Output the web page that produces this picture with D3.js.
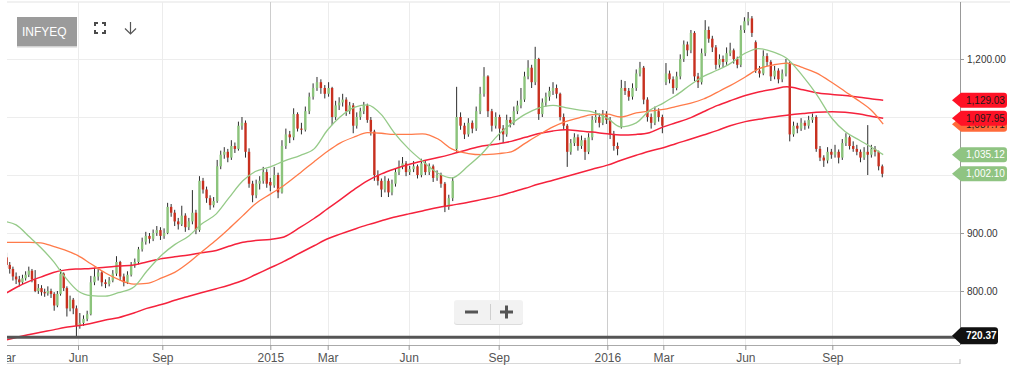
<html>
<head>
<meta charset="utf-8">
<script src="https://cdn.jsdelivr.net/npm/d3@7/dist/d3.min.js"></script>
</head>
<body style="margin:0;background:#fff">
<style>
  svg { font-family: "Liberation Sans", Arial, Helvetica, sans-serif; }
  .xaxis text { font-size: 12px; fill: #555; }
  .yaxis text { font-size: 10px; fill: #333; }
  .xaxis line, .yaxis line { stroke: #999; }
  .ma { fill: none; }
  .flag text { font-size: 10px; }
</style>
<svg width="1021" height="367" id="chart"></svg>
<script>
// ---- data ----
// one bar every 4 calendar days starting here: [open, high, low, close]
var firstBar = "2014-03-03";
var barStep = 4;
var ohlc = [
  // Mar - May 2014
  [858,866,840,845],[845,850,830,838],[838,842,818,825],[825,832,812,820],[820,826,808,815],[815,828,812,822],
  [822,834,818,828],[828,842,824,835],[835,838,815,820],[820,836,798,800],[800,812,795,805],[805,810,792,798],
  [798,804,790,796],[796,808,792,800],[800,804,788,795],[795,798,766,775],[775,800,772,795],[795,838,792,830],
  [830,832,800,805],[805,808,756,770],[770,792,765,785],[785,788,760,770],[770,775,720.37,740],
  // Jun - Aug 2014
  [740,762,735,745],[745,758,740,752],[752,766,748,760],[760,826,758,815],[815,840,810,825],[825,838,818,832],
  [832,834,808,815],[815,820,805,812],[812,824,808,818],[818,836,815,830],[830,860,826,850],[850,852,818,825],
  [825,830,808,815],[815,834,812,828],[828,850,825,845],[845,856,840,850],[850,876,846,872],[872,892,868,885],
  [885,902,880,895],[895,900,882,890],[890,906,886,900],[900,912,895,905],[905,910,888,895],
  // Sep - Dec 2014
  [895,908,890,900],[900,952,898,945],[945,950,928,935],[935,940,912,920],[920,926,906,915],[915,947,912,930],
  [930,934,902,910],[910,926,905,920],[920,974,915,935],[935,940,898,905],[905,998,902,990],[990,995,968,975],
  [975,980,952,960],[960,965,940,948],[948,962,944,955],[955,1026,952,1015],[1015,1042,1010,1035],[1035,1048,1028,1040],
  [1040,1045,1022,1030],[1030,1060,1026,1050],[1050,1056,1038,1045],[1045,1092,1042,1085],[1085,1100,1078,1090],[1090,1094,1030,1040],
  [1040,1046,978,985],[985,990,953,965],[965,992,960,985],[985,998,975,990],[990,1014,985,1005],[1005,1010,978,985],
  // Jan - Feb 2015
  [988,995,972,982],[982,1014,978,1000],[1000,1004,960,970],[970,1060,968,1050],[1050,1080,1045,1070],[1070,1076,1055,1065],
  [1065,1115,1060,1105],[1105,1108,1075,1080],[1080,1090,1070,1078],[1078,1118,1075,1110],[1110,1142,1105,1135],[1135,1158,1130,1150],
  [1150,1169,1145,1160],[1160,1165,1140,1150],[1150,1155,1132,1140],
  // Mar - May 2015
  [1140,1160,1135,1150],[1150,1152,1086,1100],[1100,1128,1095,1120],[1120,1134,1112,1125],[1125,1140,1118,1130],[1130,1134,1102,1110],
  [1110,1126,1105,1120],[1120,1124,1072,1085],[1085,1108,1080,1100],[1100,1116,1095,1110],[1110,1126,1105,1120],[1120,1123,1090,1095],
  [1095,1100,1068,1075],[1075,1078,990,1000],[1000,1008,982,990],[990,994,962,975],[975,998,970,990],[990,994,962,970],
  [970,992,965,985],[985,1012,980,1005],[1005,1025,1000,1015],[1015,1031,1010,1020],[1020,1024,998,1005],
  // Jun - Aug 2015
  [1005,1016,1000,1010],[1010,1024,1005,1015],[1015,1018,994,1000],[1000,1028,996,1020],[1020,1024,1000,1005],[1005,1020,1000,1015],
  [1015,1018,988,995],[995,1008,990,1000],[1000,1004,978,985],[985,988,936,945],[945,966,940,960],[960,996,955,990],
  [1045,1152,1040,1100],[1100,1108,1078,1085],[1085,1090,1062,1070],[1070,1098,1066,1090],[1090,1094,1072,1080],[1080,1118,1076,1110],
  [1110,1152,1105,1140],[1140,1186,1135,1170],[1170,1172,1100,1110],[1110,1114,1075,1085],[1085,1108,1080,1100],
  // Sep - Dec 2015
  [1100,1104,1060,1080],[1080,1086,1055,1070],[1070,1104,1066,1095],[1095,1100,1082,1090],[1090,1118,1086,1110],[1110,1128,1105,1120],
  [1120,1150,1115,1130],[1130,1178,1126,1170],[1170,1198,1165,1185],[1185,1190,1150,1160],[1160,1221,1155,1200],[1200,1202,1095,1105],
  [1105,1132,1100,1125],[1125,1142,1118,1135],[1135,1152,1128,1145],[1145,1160,1138,1150],[1150,1156,1132,1140],[1140,1142,1094,1100],
  [1100,1106,1078,1085],[1085,1088,1014,1040],[1040,1062,1035,1055],[1055,1072,1050,1065],[1065,1070,1042,1050],[1050,1068,1045,1060],
  [1060,1064,1026,1040],[1040,1072,1036,1065],[1065,1102,1060,1095],[1095,1112,1090,1100],[1100,1106,1082,1090],[1090,1112,1086,1105],
  [1105,1110,1088,1095],
  // Jan - Feb 2016
  [1095,1100,1062,1070],[1070,1076,1042,1050],[1050,1056,1034,1045],[1083,1164,1080,1150],[1150,1162,1138,1145],[1145,1150,1128,1135],
  [1135,1158,1130,1150],[1150,1182,1145,1175],[1175,1195,1170,1185],[1185,1188,1122,1130],[1130,1134,1092,1100],[1100,1106,1080,1090],
  [1090,1118,1086,1110],[1110,1115,1092,1100],[1100,1104,1072,1085],
  // Mar - May 2016
  [1160,1193,1155,1175],[1175,1180,1158,1165],[1165,1170,1140,1150],[1150,1178,1146,1170],[1170,1208,1165,1200],[1200,1232,1195,1225],
  [1225,1230,1205,1215],[1215,1250,1210,1245],[1245,1248,1162,1170],[1170,1176,1150,1160],[1160,1218,1156,1210],[1210,1267,1205,1250],
  [1250,1256,1228,1235],[1235,1240,1212,1220],[1220,1224,1182,1190],[1190,1208,1185,1200],[1200,1206,1186,1195],[1195,1220,1190,1210],
  [1210,1228,1205,1215],[1215,1218,1192,1200],[1200,1204,1184,1190],[1190,1258,1186,1250],[1250,1272,1245,1265],
  // Jun - Aug 2016
  [1265,1281,1258,1270],[1270,1274,1238,1245],[1229,1232,1176,1180],[1180,1188,1168,1175],[1175,1215,1172,1205],[1205,1210,1188,1195],
  [1195,1198,1162,1170],[1170,1188,1165,1180],[1180,1184,1158,1165],[1165,1182,1160,1175],[1175,1200,1170,1195],[1193,1196,1058,1070],
  [1070,1092,1066,1085],[1085,1090,1072,1080],[1080,1098,1076,1090],[1090,1094,1078,1085],[1085,1102,1080,1095],[1095,1106,1090,1100],
  [1100,1103,1040,1045],[1045,1050,1024,1030],[1030,1034,1014,1025],[1025,1048,1020,1040],[1040,1045,1028,1035],
  // Sep - Oct 2016
  [1035,1052,1030,1040],[1040,1044,1020,1030],[1030,1062,1026,1055],[1055,1072,1050,1065],[1065,1068,1044,1050],[1050,1058,1040,1045],
  [1045,1052,1034,1040],[1040,1044,1022,1030],[1030,1048,1026,1040],[1040,1086,1000,1035],[1035,1052,1030,1045],[1045,1050,1032,1040],
  [1040,1042,1008,1015],[1015,1018,996,1002.10]
];

// moving averages, read at the 1st and 15th of each month
var maDates = [
  "2014-03-01","2014-03-15","2014-04-01","2014-04-15","2014-05-01","2014-05-15","2014-06-01","2014-06-15","2014-07-01","2014-07-15",
  "2014-08-01","2014-08-15","2014-09-01","2014-09-15","2014-10-01","2014-10-15","2014-11-01","2014-11-15","2014-12-01","2014-12-15",
  "2015-01-01","2015-01-15","2015-02-01","2015-02-15","2015-03-01","2015-03-15","2015-04-01","2015-04-15","2015-05-01","2015-05-15",
  "2015-06-01","2015-06-15","2015-07-01","2015-07-15","2015-08-01","2015-08-15","2015-09-01","2015-09-15","2015-10-01","2015-10-15",
  "2015-11-01","2015-11-15","2015-12-01","2015-12-15","2016-01-01","2016-01-15","2016-02-01","2016-02-15","2016-03-01","2016-03-15",
  "2016-04-01","2016-04-15","2016-05-01","2016-05-15","2016-06-01","2016-06-15","2016-07-01","2016-07-15","2016-08-01","2016-08-15",
  "2016-09-01","2016-09-15","2016-10-01","2016-10-15","2016-10-27"
];
var ma20 = [
  920,914,893,875,851,825,800,792,791,797, 807,834,863,880,895,915,933,960,990,1006,
  1014,1024,1034,1045,1078,1100,1117,1121,1104,1074, 1045,1024,1003,995,1016,1037,1070,1088,1105,1115,
  1120,1116,1112,1109,1098,1083,1090,1111,1124,1137, 1156,1170,1181,1192,1210,1218,1212,1201,1170,1140,
  1097,1075,1060,1047,1035.12
];
var ma50 = [
  884,884,884,883,877,871,861,847,831,820, 812,813,823,832,849,867,888,907,930,950,
  967,982,1004,1023,1041,1055,1066,1073,1072,1070, 1070,1071,1062,1045,1037,1035,1037,1040,1055,1068,
  1083,1092,1099,1104,1105,1100,1107,1110,1113,1118, 1124,1131,1143,1154,1169,1183,1190,1193,1185,1176,
  1159,1144,1127,1110,1087.71
];
var ma100 = [
  795,806,817,824,832,836,838,839,841,843, 845,850,856,859,862,866,870,877,884,887,
  889,893,910,925,942,957,976,990,1002,1010, 1018,1024,1030,1036,1044,1050,1054,1058,1065,1071,
  1076,1078,1076,1074,1071,1069,1070,1073,1083,1090, 1099,1109,1120,1128,1137,1143,1148,1152,1147,1142,
  1139,1137,1134,1131,1129.03
];
var ma200 = [
  715,720,725,729,733,737,740,744,750,754, 762,770,777,784,791,797,804,810,818,828,
  840,851,866,878,890,898,907,914,921,927, 933,938,944,948,953,958,964,970,977,984,
  991,997,1004,1010,1017,1025,1034,1041,1047,1054, 1062,1069,1077,1085,1092,1096,1100,1103,1106,1108,
  1109,1108,1105,1101,1097.95
];

var tickDates = ["2014-03-01","2014-06-01","2014-09-01","2015-01-01","2015-03-01","2015-06-01",
                 "2015-09-01","2016-01-01","2016-03-01","2016-06-01","2016-09-01"];
var tickLabels = ["Mar","Jun","Sep","2015","Mar","Jun","Sep","2016","Mar","Jun","Sep"];
var priceTicks = [800, 900, 1200];
var gridPrices = [800, 900, 1000, 1100, 1200];
var periodLow = 720.37;
var symbol = "INFYEQ";

// ---- chart ----
var parse = d3.timeParse("%Y-%m-%d");
var fmt = d3.format(",.2f");
var svg = d3.select("#chart");
var plotLeft = 7, plotRight = 960, plotTop = 2, plotBottom = 345;

// trading-day axis: calendar time squeezed piecewise so ticks land where the original puts them
var x = d3.scaleTime()
  .domain(["2014-03-01","2014-06-01","2014-09-01","2015-01-01","2015-03-01","2015-06-01",
           "2015-09-01","2016-01-01","2016-03-01","2016-06-01","2016-09-01","2016-12-01"].map(parse))
  .range([5, 78, 162.3, 270.3, 327.7, 408.7, 498.7, 607.3, 663.3, 745.3, 832.3, 915]);

var y = d3.scaleLinear().domain([706.9, 1296.55]).range([plotBottom, 3]);

var start = parse(firstBar);
var bars = ohlc.map(function(d, i) {
  return { date: d3.timeDay.offset(start, i * barStep), o: d[0], h: d[1], l: d[2], c: d[3] };
});

var defs = svg.append("defs");
defs.append("clipPath").attr("id", "plot")
  .append("rect").attr("x", plotLeft).attr("y", plotTop)
  .attr("width", plotRight - plotLeft).attr("height", plotBottom - plotTop);
defs.append("clipPath").attr("id", "xlab")
  .append("rect").attr("x", plotLeft).attr("y", plotBottom)
  .attr("width", plotRight - plotLeft).attr("height", 22);

// borders
svg.append("line").attr("x1", plotLeft).attr("x2", 1010).attr("y1", plotTop).attr("y2", plotTop)
  .style("stroke", "#e3e3e3");
svg.append("line").attr("x1", plotLeft).attr("x2", plotRight).attr("y1", 363.5).attr("y2", 363.5)
  .style("stroke", "#d8d8d8");
svg.append("line").attr("x1", plotRight).attr("x2", plotRight).attr("y1", 359).attr("y2", 364)
  .style("stroke", "#bbb");

var plot = svg.append("g").attr("clip-path", "url(#plot)");

// grid
plot.append("g").selectAll("line").data(gridPrices).enter().append("line")
  .attr("x1", plotLeft).attr("x2", plotRight)
  .attr("y1", function(d) { return Math.round(y(d)) + 0.5; })
  .attr("y2", function(d) { return Math.round(y(d)) + 0.5; })
  .style("stroke", "#ededed");

plot.append("g").selectAll("line").data(tickDates.map(parse)).enter().append("line")
  .attr("x1", function(d) { return Math.round(x(d)) + 0.5; })
  .attr("x2", function(d) { return Math.round(x(d)) + 0.5; })
  .attr("y1", plotTop).attr("y2", plotBottom)
  .style("stroke", function(d) { return d.getMonth() === 0 ? "#cdcdcd" : "#ececec"; });

// candles
var candle = plot.append("g").selectAll("g").data(bars).enter().append("g");
candle.append("line")
  .attr("x1", function(d) { return x(d.date); })
  .attr("x2", function(d) { return x(d.date); })
  .attr("y1", function(d) { return y(d.h); })
  .attr("y2", function(d) { return y(d.l); })
  .style("stroke", "#2d2d2d").style("stroke-width", 1);
candle.append("rect")
  .attr("x", function(d) { return x(d.date) - 1.2; })
  .attr("width", 2.4)
  .attr("y", function(d) { return y(Math.max(d.o, d.c)); })
  .attr("height", function(d) { return Math.max(1, Math.abs(y(d.o) - y(d.c))); })
  .style("fill", function(d) { return d.c >= d.o ? "#8cc47c" : "#c8301f"; });

// moving averages
var maTime = maDates.map(parse);
function maLine(values, color, width) {
  var line = d3.line()
    .x(function(d, i) { return x(maTime[i]); })
    .y(function(d) { return y(d); })
    .curve(d3.curveMonotoneX);
  plot.append("path").datum(values).attr("class", "ma").attr("d", line)
    .style("stroke", color).style("stroke-width", width);
}
maLine(ma200, "#f5223c", 1.5);
maLine(ma100, "#f5223c", 1.5);
maLine(ma50, "#ff7b4a", 1.3);
maLine(ma20, "#95ca88", 1.3);

// period low line
svg.append("line").attr("x1", plotLeft).attr("x2", plotRight)
  .attr("y1", y(periodLow)).attr("y2", y(periodLow))
  .style("stroke", "#555").style("stroke-width", 3);

// axes
svg.append("line").attr("x1", plotLeft).attr("x2", plotRight)
  .attr("y1", plotBottom + 0.5).attr("y2", plotBottom + 0.5)
  .style("stroke", "#aaa");
svg.append("line").attr("x1", plotRight + 0.5).attr("x2", plotRight + 0.5)
  .attr("y1", plotTop).attr("y2", plotBottom)
  .style("stroke", "#999");

var xAxis = svg.append("g").attr("clip-path", "url(#xlab)")
  .append("g").attr("class", "xaxis")
  .attr("transform", "translate(0," + plotBottom + ")")
  .call(d3.axisBottom(x).tickValues(tickDates.map(parse))
    .tickFormat(function(d, i) { return tickLabels[i]; })
    .tickSize(5).tickPadding(3));
xAxis.select(".domain").remove();

var yAxis = svg.append("g").attr("class", "yaxis")
  .attr("transform", "translate(" + plotRight + ",0)")
  .call(d3.axisRight(y).tickValues(priceTicks).tickFormat(fmt).tickSize(4).tickPadding(3));
yAxis.select(".domain").remove();

// price flags on the right
function flag(v, fill, textColor) {
  var g = svg.append("g").attr("class", "flag")
    .attr("transform", "translate(952," + y(v) + ")");
  g.append("path")
    .attr("d", "M0,0 L9,-7.5 H52 Q55,-7.5 55,-4.5 V4.5 Q55,7.5 52,7.5 H9 Z")
    .style("fill", fill);
  g.append("text").attr("x", 14).attr("y", 3.6).text(fmt(v)).style("fill", textColor);
}
var last = bars[bars.length - 1];
flag(ma100[ma100.length - 1], "#ff1226", "#1a1a1a");
flag(ma50[ma50.length - 1], "#ff6a3a", "#1a1a1a");
flag(ma200[ma200.length - 1], "#ff1226", "#1a1a1a");
flag(ma20[ma20.length - 1], "#8fc482", "#fff");
flag(last.c, "#8fc482", "#fff");

var lowFlag = svg.append("g").attr("class", "flag")
  .attr("transform", "translate(952," + (y(periodLow) - 1.5) + ")");
lowFlag.append("path")
  .attr("d", "M0,0 L9,-8.5 H43 Q46,-8.5 46,-5.5 V5.5 Q46,8.5 43,8.5 H9 Z")
  .style("fill", "#111");
lowFlag.append("text").attr("x", 14).attr("y", 3.6).text(d3.format(".2f")(periodLow))
  .style("fill", "#fff").style("font-weight", "bold");

// toolbar
svg.append("rect").attr("x", 17).attr("y", 18.5).attr("width", 60).attr("height", 29).style("fill", "#d2d2d2");
svg.append("rect").attr("x", 17).attr("y", 17).attr("width", 60).attr("height", 29).style("fill", "#9b9b9b");
svg.append("text").attr("x", 22).attr("y", 36).text(symbol)
  .style("fill", "#fff").style("font-size", "12px");

var icon = svg.append("g").style("fill", "none").style("stroke", "#4a4a4a").style("stroke-width", 2);
icon.append("path").attr("d",
  "M95,26 V23 H98 M102,23 H105 V26 M105,30 V33 H102 M98,33 H95 V30");
var arrow = svg.append("g").style("fill", "none").style("stroke", "#555").style("stroke-width", 1.2);
arrow.append("path").attr("d", "M130.5,22 V34 M125,28.5 L130.5,34 L136,28.5");

// zoom buttons
svg.append("rect").attr("x", 454).attr("y", 301).attr("width", 69).attr("height", 24).attr("rx", 3)
  .style("fill", "#dcdcdc");
svg.append("rect").attr("x", 454).attr("y", 300).attr("width", 69).attr("height", 24).attr("rx", 3)
  .style("fill", "#f2f2f2").style("opacity", 0.95);
svg.append("line").attr("x1", 490.5).attr("x2", 490.5).attr("y1", 304).attr("y2", 320).style("stroke", "#cfcfcf");
svg.append("rect").attr("x", 465).attr("y", 310.5).attr("width", 13).attr("height", 3).style("fill", "#555");
svg.append("rect").attr("x", 500).attr("y", 310.5).attr("width", 13).attr("height", 3).style("fill", "#555");
svg.append("rect").attr("x", 505).attr("y", 305.5).attr("width", 3).attr("height", 13).style("fill", "#555");
</script>
</body>
</html>
